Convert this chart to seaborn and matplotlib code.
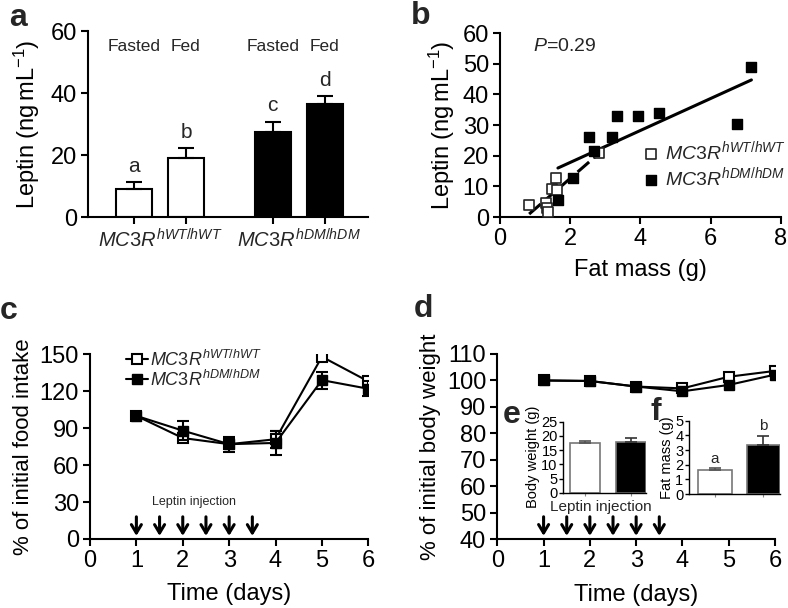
import numpy as np
import matplotlib
matplotlib.use('Agg')
import matplotlib.pyplot as plt
import seaborn as sns

# Panel a: plasma leptin, fasted / fed
a_pos = [0, 1, 2.67, 3.67]
a_vals = [9.0, 19.0, 27.3, 36.5]
a_err = [2.3, 3.3, 3.5, 2.6]
a_fill = ['white', 'white', 'black', 'black']
a_letters = ['a', 'b', 'c', 'd']
a_cond = ['Fasted', 'Fed', 'Fasted', 'Fed']
wt_lab = r'$\mathit{MC3R}^{\mathit{hWT/hWT}}$'
dm_lab = r'$\mathit{MC3R}^{\mathit{hDM/hDM}}$'

# Panel b: leptin vs fat mass
b_wt_x = [0.83, 1.30, 1.34, 1.36, 1.48, 1.60, 1.63, 2.82]
b_wt_y = [4.0, 4.5, 2.8, 1.7, 9.3, 12.6, 8.8, 21.0]
b_dm_x = [1.65, 2.08, 2.54, 2.68, 3.20, 3.34, 3.93, 4.53, 6.76, 7.16]
b_dm_y = [5.5, 12.9, 26.2, 21.6, 26.0, 33.1, 33.0, 33.8, 30.3, 49.0]

# Panel c: food intake
days = [1, 2, 3, 4, 5, 6]
c_wt = [100, 82, 77, 81, 148, 128]
c_wt_err = [1, 2, 3, 7, 3, 3]
c_dm = [100, 88, 77, 78, 129, 122]
c_dm_err = [1, 8, 6, 10, 7, 6]

# Panel d: body weight
d_wt = [100, 99.8, 97.7, 97.0, 101.4, 103.6]
d_wt_err = [0.5, 0.6, 0.6, 0.8, 0.8, 0.8]
d_dm = [100, 99.8, 97.7, 95.9, 98.3, 102.2]
d_dm_err = [0.5, 0.6, 0.7, 0.9, 0.9, 0.9]

inj_days = [1, 1.5, 2, 2.5, 3, 3.5]

# Insets e, f
e_vals = [17.4, 18.0]
e_err = [0.7, 1.1]
f_vals = [1.64, 3.34]
f_err = [0.11, 0.64]
f_letters = ['a', 'b']
inset_cats = ['hWT', 'hDM']

sns.set_theme(style='ticks')
plt.rcParams['font.family'] = ['Liberation Sans', 'DejaVu Sans']
plt.rcParams['mathtext.fontset'] = 'custom'
plt.rcParams['mathtext.rm'] = 'Liberation Sans'
plt.rcParams['mathtext.it'] = 'Liberation Sans:italic'
plt.rcParams['mathtext.bf'] = 'Liberation Sans:bold'
plt.rcParams['axes.linewidth'] = 1.5
plt.rcParams['xtick.major.width'] = 1.5
plt.rcParams['ytick.major.width'] = 1.5
plt.rcParams['xtick.major.size'] = 5
plt.rcParams['ytick.major.size'] = 5
plt.rcParams['axes.edgecolor'] = 'black'
plt.rcParams['xtick.color'] = 'black'
plt.rcParams['ytick.color'] = 'black'
plt.rcParams['axes.labelcolor'] = 'black'

FS = 17
fig = plt.figure(figsize=(7.88, 6.08), dpi=100)


def style(ax, fs=FS):
    sns.despine(ax=ax)
    ax.tick_params(labelsize=fs, pad=3)
    ax.set_facecolor('none')


def arrows(ax, y0, y1):
    for d in inj_days:
        ax.annotate('', xy=(d, y1), xytext=(d, y0), annotation_clip=False,
                    arrowprops=dict(arrowstyle='->,head_length=0.5,head_width=0.3',
                                    color='black', lw=2.2, shrinkA=0, shrinkB=0))


# ---- a ----
ax = fig.add_axes([0.1117, 0.643, 0.355, 0.306])
ax.bar(a_pos, a_vals, width=0.69, color=a_fill, edgecolor='black', lw=1.5)
ax.errorbar(a_pos, a_vals, yerr=[[0] * 4, a_err], fmt='none', ecolor='black',
            elinewidth=1.5, capsize=6, capthick=1.5)
for x, v, e, l, c in zip(a_pos, a_vals, a_err, a_letters, a_cond):
    ax.text(x, v + e + 2.0, l, ha='center', va='bottom', fontsize=15)
    ax.text(x, 55, c, ha='center', va='center', fontsize=12.5)
ax.text(np.mean(a_pos[:2]), -7.3, wt_lab, ha='center', va='center', fontsize=14.5)
ax.text(np.mean(a_pos[2:]), -7.3, dm_lab, ha='center', va='center', fontsize=14.5)
ax.set_xlim(-0.885, 4.5)
ax.set_ylim(0, 60)
ax.set_yticks([0, 20, 40, 60])
ax.set_xticks(a_pos)
ax.set_xticklabels([])
ax.set_ylabel(r'Leptin (ng$\,$mL$^{-1}$)', fontsize=17, labelpad=6)
style(ax)

# ---- b ----
ax = fig.add_axes([0.6345, 0.643, 0.3565, 0.3025])
sns.regplot(x=b_wt_x, y=b_wt_y, scatter=False, ci=None, truncate=True, ax=ax,
            line_kws=dict(color='black', lw=2.2, ls=(0, (5, 2))))
sns.regplot(x=b_dm_x, y=b_dm_y, scatter=False, ci=None, truncate=True, ax=ax,
            line_kws=dict(color='black', lw=2.2))
sns.scatterplot(x=b_wt_x, y=b_wt_y, marker='s', s=45, color='white',
                edgecolor='#222222', linewidth=1.2, label=wt_lab, ax=ax, zorder=3)
sns.scatterplot(x=b_dm_x, y=b_dm_y, marker='s', s=45, color='black',
                edgecolor='black', linewidth=1, label=dm_lab, ax=ax, zorder=3)
ax.legend(loc='upper left', bbox_to_anchor=(0.47, 0.465), frameon=False,
          fontsize=14, handletextpad=0.1, labelspacing=0.1, borderaxespad=0,
          handlelength=1.2)
ax.text(0.95, 55.5, r'$\mathit{P}$=0.29', fontsize=14, va='center')
ax.set_xlim(0, 8)
ax.set_ylim(0, 60)
ax.set_xticks([0, 2, 4, 6, 8])
ax.set_yticks(range(0, 61, 10))
ax.set_xlabel('Fat mass (g)', fontsize=17, labelpad=6)
ax.set_ylabel(r'Leptin (ng$\,$mL$^{-1}$)', fontsize=17, labelpad=4)
style(ax)

# ---- c ----
ax = fig.add_axes([0.1142, 0.1135, 0.3532, 0.3038])
ax.errorbar(days, c_wt, yerr=c_wt_err, fmt='none', ecolor='black',
            elinewidth=1.5, capsize=4, capthick=1.5, zorder=3)
ax.errorbar(days, c_dm, yerr=c_dm_err, fmt='none', ecolor='black',
            elinewidth=1.5, capsize=4, capthick=1.5, zorder=4)
ax.plot(days, c_wt, color='black', lw=1.5, marker='s', ms=7.5, mfc='white',
        mec='black', mew=1.5, label=wt_lab, zorder=3)
ax.plot(days, c_dm, color='black', lw=1.5, marker='s', ms=7.5, mfc='black',
        mec='black', label=dm_lab, zorder=4)
arrows(ax, 18, 2.5)
ax.text(2.25, 30, 'Leptin injection', ha='center', va='center', fontsize=9)
ax.legend(loc='upper left', bbox_to_anchor=(0.105, 1.065), frameon=False,
          fontsize=13, handletextpad=0.1, labelspacing=0.0, borderaxespad=0,
          handlelength=1.2)
ax.set_xlim(0, 6)
ax.set_ylim(0, 150)
ax.set_xticks(range(7))
ax.set_yticks(range(0, 151, 30))
ax.set_xlabel('Time (days)', fontsize=17, labelpad=8)
ax.set_ylabel('% of initial food intake', fontsize=16, labelpad=4)
style(ax)

# ---- d ----
ax = fig.add_axes([0.6311, 0.113, 0.3524, 0.3048])
ax.errorbar(days, d_wt, yerr=d_wt_err, color='black', lw=1.5, marker='s',
            ms=7.5, mfc='white', mec='black', mew=1.5, capsize=3, zorder=3)
ax.errorbar(days, d_dm, yerr=d_dm_err, color='black', lw=1.5, marker='s',
            ms=7.5, mfc='black', mec='black', capsize=3, zorder=4)
arrows(ax, 48.5, 41.3)
ax.text(2.24, 52.3, 'Leptin injection', ha='center', va='center', fontsize=11)
ax.set_xlim(0, 6)
ax.set_ylim(40, 110)
ax.set_xticks(range(7))
ax.set_yticks(range(40, 111, 10))
ax.set_xlabel('Time (days)', fontsize=17, labelpad=8)
ax.set_ylabel('% of initial body weight', fontsize=16, labelpad=4)
style(ax)


# ---- insets e, f ----
def inset(rect, vals, errs, ylabel, yticks, xlim, width):
    ax = fig.add_axes(rect)
    sns.barplot(x=inset_cats, y=vals, hue=inset_cats, palette=['white', 'black'],
                width=width, edgecolor=['#777777', 'black'], linewidth=1.2,
                legend=False, ax=ax)
    for i, (v, e, ec) in enumerate(zip(vals, errs, ['#555555', '#333333'])):
        ax.errorbar([i], [v], yerr=[[0], [e]], fmt='none', ecolor=ec,
                    elinewidth=1.2, capsize=4, capthick=1.2)
    ax.set_xlim(*xlim)
    ax.set_ylim(yticks[0], yticks[-1])
    ax.set_yticks(yticks)
    ax.set_xticks([0, 1])
    ax.set_xticklabels([])
    ax.tick_params(axis='x', length=2, width=0.8, color='#888888')
    ax.tick_params(axis='y', length=3, width=1)
    for s in ax.spines.values():
        s.set_linewidth(1)
    ax.set_xlabel('')
    ax.set_ylabel(ylabel, fontsize=10.5, labelpad=1)
    style(ax, fs=10.5)
    ax.tick_params(axis='y', pad=1)
    return ax


inset([0.7148, 0.1896, 0.105, 0.1168], e_vals, e_err, 'Body weight (g)',
      [0, 5, 10, 15, 20, 25], (-0.48, 1.33), 0.65)
ax = inset([0.8744, 0.1875, 0.1155, 0.1205], f_vals, f_err, 'Fat mass (g)',
           [0, 1, 2, 3, 4, 5], (-0.54, 1.35), 0.69)
for x, v, e, l in zip([0, 1], f_vals, f_err, f_letters):
    ax.text(x, v + e + 0.15, l, ha='center', va='bottom', fontsize=11)

# panel letters
for x, y, l in [(0.012, 0.957, 'a'), (0.521, 0.96, 'b'), (0.0, 0.475, 'c'),
                (0.525, 0.478, 'd'), (0.638, 0.305, 'e'), (0.825, 0.31, 'f')]:
    fig.text(x, y, l, fontsize=23, fontweight='bold', ha='left', va='baseline')

fig.savefig('out.png', dpi=100)
